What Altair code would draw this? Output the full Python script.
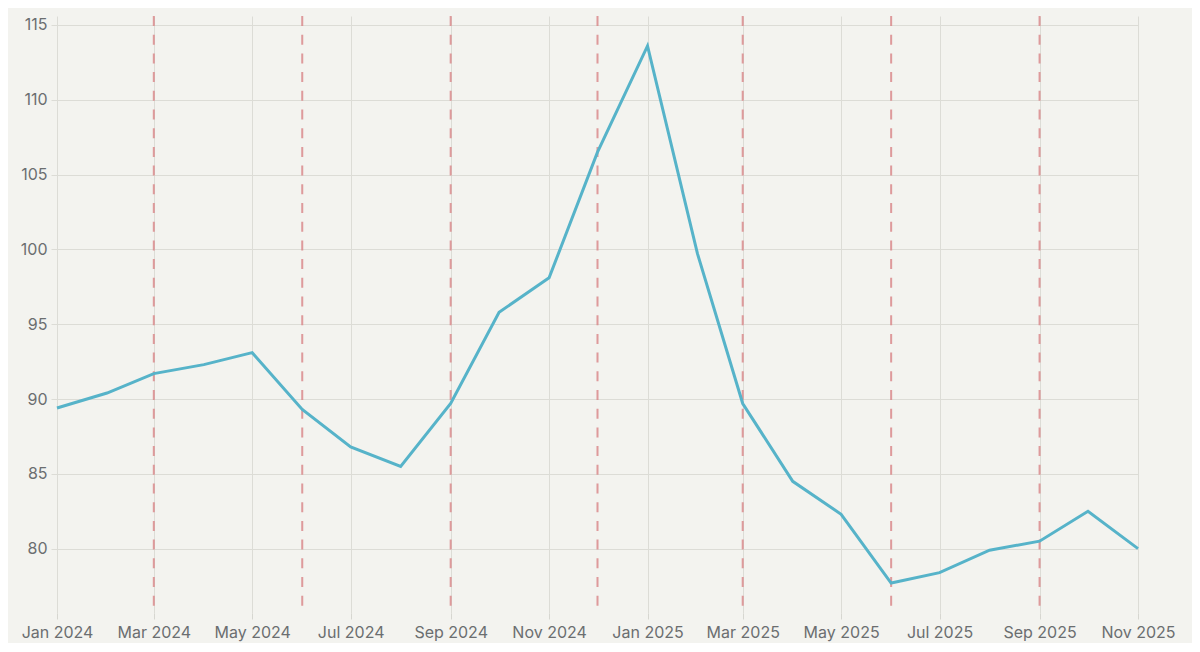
import altair as alt
import pandas as pd

months = pd.date_range("2024-01-01", "2025-11-01", freq="MS").strftime("%Y-%m-%d").tolist()
values = [89.4, 90.4, 91.7, 92.3, 93.1, 89.3, 86.8, 85.5, 89.7, 95.8, 98.1, 106.5,
          113.6, 99.7, 89.7, 84.5, 82.3, 77.7, 78.4, 79.9, 80.5, 82.5, 80.0]
marker_dates = ["2024-03-01", "2024-06-01", "2024-09-01", "2024-12-01",
                "2025-03-01", "2025-06-01", "2025-09-01"]
tick_dates = ["2024-01-01", "2024-03-01", "2024-05-01", "2024-07-01", "2024-09-01",
              "2024-11-01", "2025-01-01", "2025-03-01", "2025-05-01", "2025-07-01",
              "2025-09-01", "2025-11-01"]
y_ticks = [80, 85, 90, 95, 100, 105, 110, 115]

df = pd.DataFrame({"date": months, "value": values})
mk = pd.DataFrame({"date": marker_dates})

ymin = min(values) - 2
ymax = max(values) + 2

xscale = alt.Scale(type="utc", domain=[alt.DateTime(year=2024, month=1, date=1, utc=True),
                                       alt.DateTime(year=2025, month=11, date=1, utc=True)])
tick_objs = [alt.DateTime(year=int(d[:4]), month=int(d[5:7]), date=1, utc=True) for d in tick_dates]

xaxis = alt.Axis(values=tick_objs, format="%b %Y", title=None, domain=False,
                 grid=True, gridColor="#dcdcd6", gridWidth=1,
                 tickColor="#d6d6d0", tickSize=6, labelPadding=5,
                 labelOverlap=False, labelFlush=False,
                 labelFont="Inter", labelFontSize=16, labelColor="#6b6e70")
yaxis = alt.Axis(values=y_ticks, title=None, domain=False, grid=True,
                 gridColor="#dcdcd6", gridWidth=1, tickColor="#dcdcd6",
                 tickSize=6, labelPadding=4, labelOverlap=False, labelFlush=False,
                 labelFont="Inter", labelFontSize=16, labelColor="#6b6e70")

rules = alt.Chart(mk).mark_rule(color="#d98a8c", strokeWidth=2, strokeDash=[10, 8.7], opacity=0.85).encode(
    x=alt.X("date:T", scale=xscale, axis=xaxis)
)

line = alt.Chart(df).mark_line(color="#56b3c9", strokeWidth=3).encode(
    x=alt.X("date:T", scale=xscale, axis=xaxis),
    y=alt.Y("value:Q", scale=alt.Scale(domain=[ymin, ymax], nice=False, zero=False), axis=yaxis),
)

chart = alt.layer(rules, line).properties(
    width=1081, height=597,
    background="#f3f3ef",
    padding={"left": 49, "top": 8, "right": 54, "bottom": 30},
    autosize=alt.AutoSizeParams(type="none"),
).configure_view(stroke=None)

chart.save("out.html", embed_options={"renderer": "svg", "actions": False})
